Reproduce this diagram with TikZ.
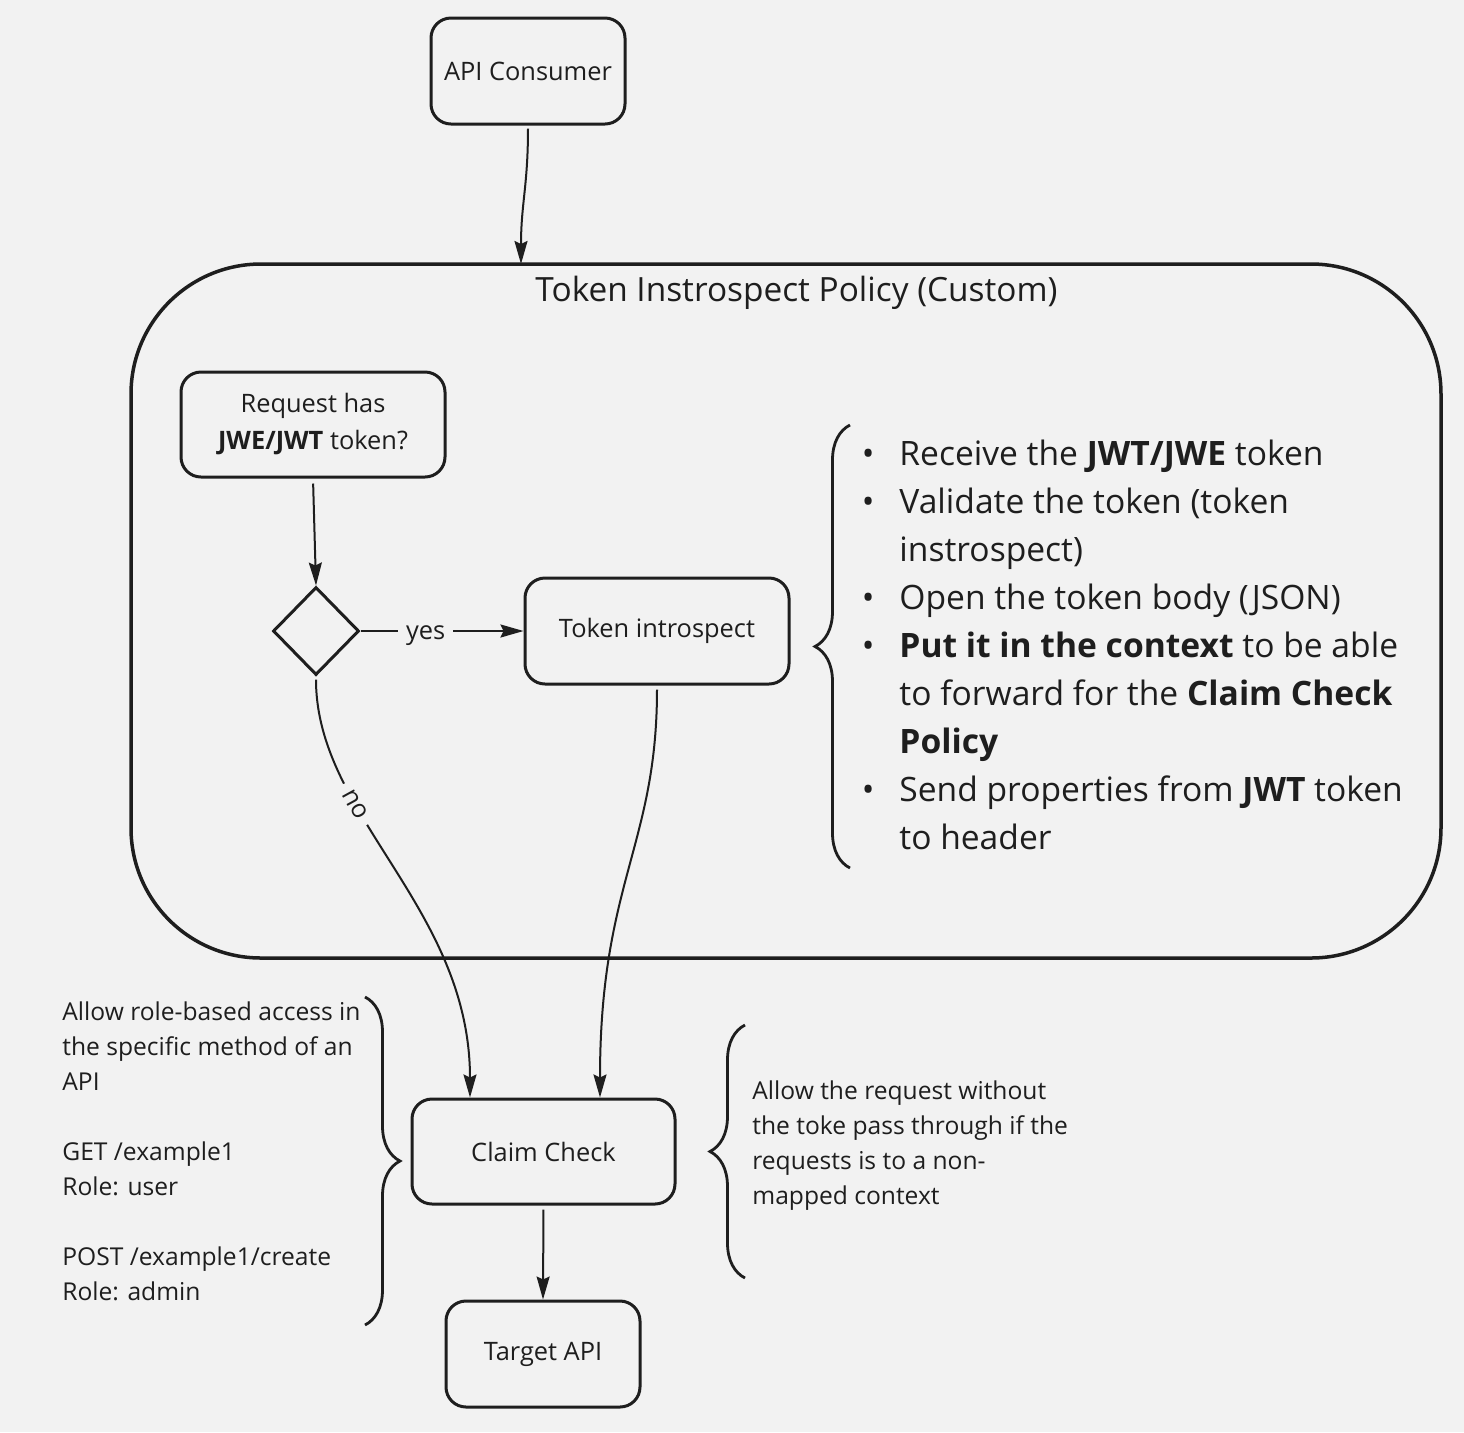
\documentclass[tikz,border=0pt]{standalone}
\usepackage{fontspec}
\setmainfont{Open Sans}
\usetikzlibrary{arrows.meta,shapes.geometric,decorations.pathreplacing}
\definecolor{canvas}{HTML}{F2F2F2}
\definecolor{ink}{HTML}{1E1E1E}
\newcommand{\blt}{\makebox[18.75pt][l]{•}}
\newcommand{\indt}{\hspace*{18.75pt}}
\begin{document}
\begin{tikzpicture}[x=0.5pt,y=-0.5pt,
	box/.style={draw=ink,line width=1.5pt,rounded corners=10pt,align=center,inner sep=0pt,text=ink,font=\fontsize{12.7}{18.5}\selectfont},
	link/.style={draw=ink,line width=1pt,-{Stealth[length=11.5pt,width=6.5pt,inset=1.5pt]}},
	lbl/.style={fill=canvas,text=ink,inner xsep=4pt,inner ysep=1pt,font=\fontsize{12.7}{15}\selectfont},
	brc/.style={draw=ink,line width=1.4pt,decorate,decoration={brace,amplitude=17.5pt}},
	note/.style={align=left,inner sep=0pt,text=ink,font=\fontsize{12.3}{17.5}\selectfont}]
				\fill[canvas] (0,0) rectangle (1464,1432);
				\node[box,minimum width=97pt,minimum height=53pt] (consumer) at (528,71) {API Consumer};
				\node[draw=ink,line width=1.75pt,rounded corners=65pt,minimum width=655pt,minimum height=347pt] (policy) at (786,611) {};
				\node[text=ink,inner sep=0pt,font=\fontsize{16.7}{24}\selectfont] (policytitle) at (796.5,293) {Token Instrospect Policy (Custom)};
				\node[box,minimum width=132pt,minimum height=52.5pt] (request) at (313,424.5) {Request has\\\textbf{JWE/JWT} token?};
				\node[diamond,draw=ink,line width=1.5pt,minimum width=43pt,minimum height=44pt,inner sep=0pt] (check) at (316,631) {};
				\node[box,minimum width=132pt,minimum height=53pt] (introspect) at (657,631) {Token introspect};
				\node[box,minimum width=131.5pt,minimum height=52.5pt] (claim) at (543.5,1151.5) {Claim Check};
				\node[box,minimum width=97pt,minimum height=53pt] (target) at (543,1354) {Target API};
				\coordinate (policytop) at (521,264);
				\draw[link,shorten <=1.5pt] (consumer.south) .. controls +(0,60) and +(0,-60) .. (policytop);
				\draw[link,shorten <=2.5pt] (request.south) -- (check.north);
				\draw[link] (check.east) -- node[lbl,pos=0.4,yshift=-2.5pt] {yes} (introspect.west);
				\draw[link,shorten <=1.5pt] (check.south) .. controls +(0,140) and +(0,-190) .. node[lbl,pos=0.33,sloped] {no} ([xshift=-36.75pt]claim.north);
				\draw[link,shorten <=2pt] (introspect.south) .. controls +(0,160) and +(0,-215) .. ([xshift=28.25pt]claim.north);
				\draw[link,shorten <=2pt] (claim.south) -- (target.north);
				\draw[brc] (850,868) -- (850,425);
				\draw[brc] (365,997) -- (365,1325);
				\draw[brc] (745,1278) -- (745,1025);
				\node[inner sep=0pt,align=left,text=ink,font=\fontsize{16.8}{24}\selectfont,anchor=north west] (steps) at (861.5,440) {\blt Receive the \textbf{JWT/JWE} token\\
					\blt Validate the token (token\\
					\indt instrospect)\\
					\blt Open the token body (JSON)\\
					\blt \textbf{Put it in the context} to be able\\
					\indt to forward for the \textbf{Claim Check}\\
					\indt \textbf{Policy}\\
					\blt Send properties from \textbf{JWT} token\\
					\indt to header};
				\node[note,anchor=north west] (rolenote) at (62,1001) {Allow role-based access in\\the specific method of an\\API\\[17.5pt]GET /example1\\Role: user\\[17.5pt]POST /example1/create\\Role: admin};
				\node[note,anchor=north west] (passnote) at (752,1080) {Allow the request without\\the toke pass through if the\\requests is to a non-\\mapped context};
			\end{tikzpicture}
\end{document}
